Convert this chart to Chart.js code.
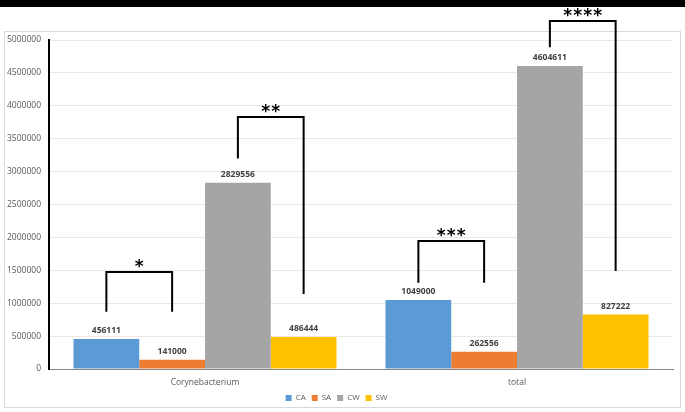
<!DOCTYPE html>
<html>
<head>
<meta charset="utf-8">
<script src="https://cdn.jsdelivr.net/npm/chart.js@4.4.1/dist/chart.umd.min.js"></script>
<style>
  html, body { margin: 0; padding: 0; background: #ffffff; }
  #wrap { width: 685px; height: 412px; position: relative; }
</style>
</head>
<body>
<div id="wrap"><canvas id="chart"></canvas></div>
<script>
// Dados do gráfico
const categories = ['Corynebacterium', 'total'];
const seriesNames = ['CA', 'SA', 'CW', 'SW'];
const caValues = [456111, 1049000];
const saValues = [141000, 262556];
const cwValues = [2829556, 4604611];
const swValues = [486444, 827222];
const seriesColors = ['#5B9BD5', '#ED7D31', '#A5A5A5', '#FFC000'];
const yMax = 5000000;
const yStep = 500000;

// Colchetes de significância (em valores do eixo y)
const bracketCategory = [0, 0, 1, 1];
const bracketFrom = [0, 2, 0, 2];
const bracketTo = [1, 3, 1, 3];
const bracketTop = [1480000, 3830000, 1940000, 5290000];
const bracketLeftEnd = [870000, 3200000, 1310000, 4890000];
const bracketRightEnd = [870000, 1140000, 1310000, 1490000];
const bracketStars = ['*', '**', '***', '****'];

const seriesValues = [caValues, saValues, cwValues, swValues];

// Fundo, faixa preta e moldura
const backgroundPlugin = {
    id: 'background',
    beforeDraw(chart) {
        const ctx = chart.ctx;
        ctx.save();
        ctx.fillStyle = '#ffffff';
        ctx.fillRect(0, 0, chart.width, chart.height);
        ctx.fillStyle = '#000000';
        ctx.fillRect(0, 0, chart.width, 7);
        ctx.strokeStyle = '#D9D9D9';
        ctx.lineWidth = 1;
        ctx.strokeRect(4.5, 31.5, 676, 376);
        ctx.restore();
    }
};

// Rótulos de valor e colchetes
const annotationPlugin = {
    id: 'annotations',
    afterDatasetsDraw(chart) {
        const ctx = chart.ctx;
        const y = chart.scales.y;
        ctx.save();
        ctx.font = 'bold 8.5px "Open Sans"';
        ctx.fillStyle = '#404040';
        ctx.textAlign = 'center';
        ctx.textBaseline = 'bottom';
        chart.data.datasets.forEach((ds, i) => {
            chart.getDatasetMeta(i).data.forEach((bar, j) => {
                ctx.fillText(ds.data[j].toString(), bar.x, bar.y - 4);
            });
        });

        ctx.strokeStyle = '#000000';
        ctx.lineWidth = 2;
        ctx.fillStyle = '#000000';
        ctx.font = 'bold 17px "DejaVu Sans"';
        ctx.textBaseline = 'middle';
        bracketStars.forEach((stars, k) => {
            const c = bracketCategory[k];
            const x1 = chart.getDatasetMeta(bracketFrom[k]).data[c].x;
            const x2 = chart.getDatasetMeta(bracketTo[k]).data[c].x;
            const yt = Math.round(y.getPixelForValue(bracketTop[k]));
            ctx.beginPath();
            ctx.moveTo(x1, y.getPixelForValue(bracketLeftEnd[k]));
            ctx.lineTo(x1, yt);
            ctx.lineTo(x2, yt);
            ctx.lineTo(x2, y.getPixelForValue(bracketRightEnd[k]));
            ctx.stroke();
            const cx = (x1 + x2) / 2;
            const gap = 10;
            const start = cx - (stars.length - 1) * gap / 2;
            for (let s = 0; s < stars.length; s++) {
                ctx.fillText('*', start + s * gap, yt - 4);
            }
        });
        ctx.restore();
    }
};

new Chart(document.getElementById('chart'), {
    type: 'bar',
    data: {
        labels: categories,
        datasets: seriesNames.map((name, i) => ({
            label: name,
            data: seriesValues[i],
            backgroundColor: seriesColors[i],
            borderWidth: 0,
            categoryPercentage: 0.843,
            barPercentage: 1
        }))
    },
    options: {
        responsive: true,
        maintainAspectRatio: false,
        animation: false,
        layout: { padding: { top: 40, right: 12, left: 0, bottom: 0 } },
        plugins: {
            legend: {
                position: 'bottom',
                labels: {
                    boxWidth: 6,
                    boxHeight: 6,
                    padding: 6,
                    color: '#595959',
                    font: { size: 8, family: 'Open Sans' }
                }
            },
            tooltip: { enabled: false }
        },
        scales: {
            x: {
                grid: { display: false },
                border: { color: '#868686', width: 1 },
                ticks: { color: '#595959', font: { size: 8.5, family: 'Open Sans' }, padding: 0 },
                afterFit(scale) { scale.height = 19; }
            },
            y: {
                min: 0,
                max: yMax,
                ticks: {
                    stepSize: yStep,
                    color: '#595959',
                    font: { size: 8.5, family: 'Open Sans' },
                    padding: 8,
                    callback: (v) => String(v)
                },
                grid: { color: '#E8E8E8', drawTicks: false },
                border: { color: '#000000', width: 2 },
                afterFit(scale) { scale.width = 49; }
            }
        }
    },
    plugins: [backgroundPlugin, annotationPlugin]
});
</script>
</body>
</html>
